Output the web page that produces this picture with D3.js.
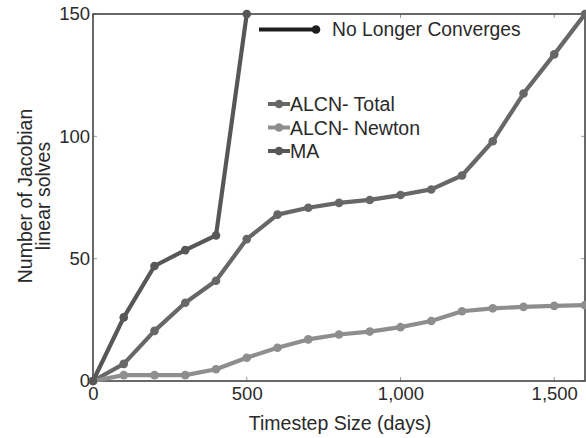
<!DOCTYPE html>
<html>
<head>
<meta charset="utf-8">
<script src="https://cdn.jsdelivr.net/npm/d3@7"></script>
<style>
  html, body { margin: 0; padding: 0; background: #fff; }
  svg { display: block; font-family: "Liberation Sans", Arial, sans-serif; }
</style>
</head>
<body>
<svg id="chart" width="586" height="438"></svg>
<script>
// Timestep sizes (days)
const steps = [0, 100, 200, 300, 400, 500, 600, 700, 800, 900, 1000, 1100, 1200, 1300, 1400, 1500, 1600];
// Jacobian linear solves per method
const alcnTotal  = [0, 7, 20.5, 32, 41, 58, 68, 70.8, 72.8, 74, 76, 78.3, 84, 98, 117.5, 133.5, 150];
const alcnNewton = [0, 2.4, 2.4, 2.4, 4.8, 9.5, 13.6, 17, 19, 20.2, 22, 24.5, 28.5, 29.7, 30.3, 30.7, 31];
const maSteps    = [0, 100, 200, 300, 400, 500];
const maSolves   = [0, 26, 47, 53.5, 59.5, 150];
const xTicks = [0, 500, 1000, 1500];
const yTicks = [0, 50, 100, 150];

const seriesNames  = ["ALCN- Total", "ALCN- Newton", "MA"];
const seriesColors = ["#676767", "#8e8e8e", "#575757"];

const svg = d3.select("#chart");
const margin = { left: 93, top: 14, right: 1, bottom: 57 };
const W = 586, H = 438;

const x = d3.scaleLinear().domain([0, 1600]).range([margin.left, W - margin.right]);
const y = d3.scaleLinear().domain([0, 150]).range([H - margin.bottom, margin.top]);

const series = [
  { name: seriesNames[0], color: seriesColors[0], pts: steps.map((s, i) => [s, alcnTotal[i]]) },
  { name: seriesNames[1], color: seriesColors[1], pts: steps.map((s, i) => [s, alcnNewton[i]]) },
  { name: seriesNames[2], color: seriesColors[2], pts: maSteps.map((s, i) => [s, maSolves[i]]) }
];

const textColor = "#2a2a2a";

// axes; tick marks are drawn separately inside the box
const fmt = d3.format(",");
const gx = svg.append("g").attr("transform", `translate(0,${y(0)})`)
  .call(d3.axisBottom(x).tickValues(xTicks).tickFormat(fmt).tickSize(0).tickPadding(6));
const gy = svg.append("g").attr("transform", `translate(${x(0)},0)`)
  .call(d3.axisLeft(y).tickValues(yTicks).tickSize(0).tickPadding(3));
[gx, gy].forEach(g => {
  g.select(".domain").remove();
  g.selectAll("text").attr("font-size", 18.5).attr("fill", textColor)
    .attr("font-family", "Liberation Sans, Arial, sans-serif");
});
gx.selectAll("text").attr("dy", "0.72em");

// small inward ticks on all four sides
const tickG = svg.append("g").attr("stroke", "#999").attr("stroke-width", 1);
xTicks.forEach(v => {
  tickG.append("line").attr("x1", x(v)).attr("x2", x(v)).attr("y1", y(0)).attr("y2", y(0) - 4);
  tickG.append("line").attr("x1", x(v)).attr("x2", x(v)).attr("y1", y(150)).attr("y2", y(150) + 4);
});
yTicks.forEach(v => {
  tickG.append("line").attr("x1", x(0)).attr("x2", x(0) + 4).attr("y1", y(v)).attr("y2", y(v));
  tickG.append("line").attr("x1", x(1600)).attr("x2", x(1600) - 4).attr("y1", y(v)).attr("y2", y(v));
});

// frame
svg.append("rect")
  .attr("x", x(0)).attr("y", y(150))
  .attr("width", x(1600) - x(0)).attr("height", y(0) - y(150))
  .attr("fill", "none").attr("stroke", "#444").attr("stroke-width", 1.6);

// series
const line = d3.line().x(d => x(d[0])).y(d => y(d[1]));
series.forEach(s => {
  svg.append("path").datum(s.pts)
    .attr("d", line).attr("fill", "none")
    .attr("stroke", s.color).attr("stroke-width", 4.2).attr("stroke-linejoin", "round");
  svg.append("g").selectAll("circle").data(s.pts).join("circle")
    .attr("cx", d => x(d[0])).attr("cy", d => y(d[1])).attr("r", 4.3)
    .attr("fill", s.color);
});

// annotation
const ann = svg.append("g");
ann.append("line").attr("x1", 259).attr("x2", 316).attr("y1", 29.5).attr("y2", 29.5)
  .attr("stroke", "#1e1e1e").attr("stroke-width", 3.8);
ann.append("circle").attr("cx", 316).attr("cy", 29.5).attr("r", 4.3).attr("fill", "#1e1e1e");
ann.append("text").attr("x", 332).attr("y", 36).attr("font-size", 19.3).attr("fill", textColor)
  .text("No Longer Converges");

// legend
const leg = svg.append("g").attr("transform", "translate(268,111)");
series.forEach((s, i) => {
  const g = leg.append("g").attr("transform", `translate(0,${i * 23.5})`);
  g.append("line").attr("x1", 0).attr("x2", 22).attr("y1", -7).attr("y2", -7)
    .attr("stroke", s.color).attr("stroke-width", 4);
  g.append("circle").attr("cx", 11).attr("cy", -7).attr("r", 4.3).attr("fill", s.color);
  g.append("text").attr("x", 22).attr("y", 0).attr("font-size", 19.5).attr("fill", textColor).text(s.name);
});

// axis titles
svg.append("text").attr("x", 340).attr("y", 430)
  .attr("text-anchor", "middle").attr("font-size", 19.5).attr("fill", textColor)
  .text("Timestep Size (days)");
const yt = svg.append("text").attr("transform", "translate(0,196) rotate(-90)")
  .attr("text-anchor", "middle").attr("font-size", 19.5).attr("fill", textColor);
yt.append("tspan").attr("x", 0).attr("y", 32).text("Number of Jacobian");
yt.append("tspan").attr("x", 0).attr("y", 50).text("linear solves");
</script>
</body>
</html>
